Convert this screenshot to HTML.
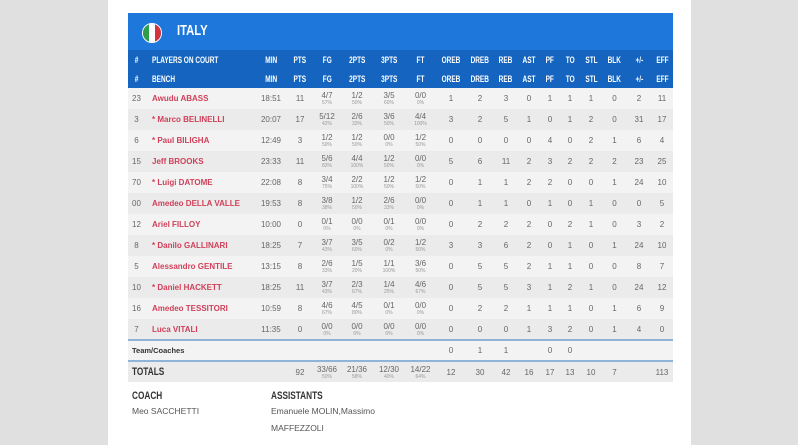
<!DOCTYPE html>
<html><head><meta charset="utf-8"><style>
*{margin:0;padding:0;box-sizing:border-box}
body{width:798px;height:445px;background:#e0e0e0;font-family:"Liberation Sans",sans-serif;overflow:hidden;position:relative}
#panel{position:absolute;left:108px;top:0;width:583px;height:445px;background:#fff}
#banner{position:absolute;left:128px;top:13px;width:545px;height:37px;background:#1e78dc}
#flag{position:absolute;left:142px;top:23px;width:20px;height:20px;border-radius:50%;overflow:hidden;display:flex;border:1px solid #fff}
#flag i{flex:1}
#italy{position:absolute;left:177px;top:22px;color:#fff;font-weight:bold;font-size:15px;transform:scaleX(.75);transform-origin:left}
table{position:absolute;left:128px;top:50px;width:545px;border-collapse:collapse;table-layout:fixed}
td,th{text-align:center;font-size:8px;color:#666;padding:0;white-space:nowrap;overflow:hidden}
th{background:#1565c0;color:#fff;height:19px;font-size:9px;font-weight:bold}
th span{display:inline-block;transform:scaleX(.72)}
th.l{text-align:left;padding-left:7px}
th.l span{transform-origin:left}
tr.d td{height:21px;line-height:9px}
tr.d:nth-child(odd) td{background:#f3f3f3}
tr.d:nth-child(even) td{background:#ebebeb}
td.n{text-align:left;padding-left:7px;color:#d0405a;font-weight:bold}
small{display:block;font-size:5px;color:#999;line-height:6px}
tr.t td{height:21px;background:#f3f3f3;border-top:2px solid #8fb4d8}
tr.tot td{height:21px;background:#ebebeb;border-top:2px solid #8fb4d8}
.cap{position:absolute;font-weight:bold;font-size:11px;color:#333;transform:scaleX(.75);transform-origin:left}
.txt{position:absolute;font-size:8.5px;color:#555}
</style></head><body>
<div id="panel"></div>
<div id="banner"></div>
<div id="flag"><i style="background:#2e9e4a"></i><i style="background:#fff"></i><i style="background:#d6323a"></i></div>
<div id="italy">ITALY</div>
<table>
<colgroup><col style="width:17px"><col style="width:110px"><col style="width:32px"><col style="width:26px"><col style="width:28px"><col style="width:32px"><col style="width:32px"><col style="width:31px"><col style="width:30px"><col style="width:28px"><col style="width:24px"><col style="width:22px"><col style="width:20px"><col style="width:20px"><col style="width:22px"><col style="width:25px"><col style="width:24px"><col style="width:22px"></colgroup>
<tr><th><span>#</span></th><th class="l"><span>PLAYERS ON COURT</span></th><th><span>MIN</span></th><th><span>PTS</span></th><th><span>FG</span></th><th><span>2PTS</span></th><th><span>3PTS</span></th><th><span>FT</span></th><th><span>OREB</span></th><th><span>DREB</span></th><th><span>REB</span></th><th><span>AST</span></th><th><span>PF</span></th><th><span>TO</span></th><th><span>STL</span></th><th><span>BLK</span></th><th><span>+/-</span></th><th><span>EFF</span></th></tr>
<tr><th><span>#</span></th><th class="l"><span>BENCH</span></th><th><span>MIN</span></th><th><span>PTS</span></th><th><span>FG</span></th><th><span>2PTS</span></th><th><span>3PTS</span></th><th><span>FT</span></th><th><span>OREB</span></th><th><span>DREB</span></th><th><span>REB</span></th><th><span>AST</span></th><th><span>PF</span></th><th><span>TO</span></th><th><span>STL</span></th><th><span>BLK</span></th><th><span>+/-</span></th><th><span>EFF</span></th></tr>
<tr class="d"><td>23</td><td class="n">Awudu ABASS</td><td>18:51</td><td>11</td><td>4/7<small>57%</small></td><td>1/2<small>50%</small></td><td>3/5<small>60%</small></td><td>0/0<small>0%</small></td><td>1</td><td>2</td><td>3</td><td>0</td><td>1</td><td>1</td><td>1</td><td>0</td><td>2</td><td>11</td></tr>
<tr class="d"><td>3</td><td class="n">* Marco BELINELLI</td><td>20:07</td><td>17</td><td>5/12<small>42%</small></td><td>2/6<small>33%</small></td><td>3/6<small>50%</small></td><td>4/4<small>100%</small></td><td>3</td><td>2</td><td>5</td><td>1</td><td>0</td><td>1</td><td>2</td><td>0</td><td>31</td><td>17</td></tr>
<tr class="d"><td>6</td><td class="n">* Paul BILIGHA</td><td>12:49</td><td>3</td><td>1/2<small>50%</small></td><td>1/2<small>50%</small></td><td>0/0<small>0%</small></td><td>1/2<small>50%</small></td><td>0</td><td>0</td><td>0</td><td>0</td><td>4</td><td>0</td><td>2</td><td>1</td><td>6</td><td>4</td></tr>
<tr class="d"><td>15</td><td class="n">Jeff BROOKS</td><td>23:33</td><td>11</td><td>5/6<small>83%</small></td><td>4/4<small>100%</small></td><td>1/2<small>50%</small></td><td>0/0<small>0%</small></td><td>5</td><td>6</td><td>11</td><td>2</td><td>3</td><td>2</td><td>2</td><td>2</td><td>23</td><td>25</td></tr>
<tr class="d"><td>70</td><td class="n">* Luigi DATOME</td><td>22:08</td><td>8</td><td>3/4<small>75%</small></td><td>2/2<small>100%</small></td><td>1/2<small>50%</small></td><td>1/2<small>50%</small></td><td>0</td><td>1</td><td>1</td><td>2</td><td>2</td><td>0</td><td>0</td><td>1</td><td>24</td><td>10</td></tr>
<tr class="d"><td>00</td><td class="n">Amedeo DELLA VALLE</td><td>19:53</td><td>8</td><td>3/8<small>38%</small></td><td>1/2<small>50%</small></td><td>2/6<small>33%</small></td><td>0/0<small>0%</small></td><td>0</td><td>1</td><td>1</td><td>0</td><td>1</td><td>0</td><td>1</td><td>0</td><td>0</td><td>5</td></tr>
<tr class="d"><td>12</td><td class="n">Ariel FILLOY</td><td>10:00</td><td>0</td><td>0/1<small>0%</small></td><td>0/0<small>0%</small></td><td>0/1<small>0%</small></td><td>0/0<small>0%</small></td><td>0</td><td>2</td><td>2</td><td>2</td><td>0</td><td>2</td><td>1</td><td>0</td><td>3</td><td>2</td></tr>
<tr class="d"><td>8</td><td class="n">* Danilo GALLINARI</td><td>18:25</td><td>7</td><td>3/7<small>43%</small></td><td>3/5<small>60%</small></td><td>0/2<small>0%</small></td><td>1/2<small>50%</small></td><td>3</td><td>3</td><td>6</td><td>2</td><td>0</td><td>1</td><td>0</td><td>1</td><td>24</td><td>10</td></tr>
<tr class="d"><td>5</td><td class="n">Alessandro GENTILE</td><td>13:15</td><td>8</td><td>2/6<small>33%</small></td><td>1/5<small>20%</small></td><td>1/1<small>100%</small></td><td>3/6<small>50%</small></td><td>0</td><td>5</td><td>5</td><td>2</td><td>1</td><td>1</td><td>0</td><td>0</td><td>8</td><td>7</td></tr>
<tr class="d"><td>10</td><td class="n">* Daniel HACKETT</td><td>18:25</td><td>11</td><td>3/7<small>43%</small></td><td>2/3<small>67%</small></td><td>1/4<small>25%</small></td><td>4/6<small>67%</small></td><td>0</td><td>5</td><td>5</td><td>3</td><td>1</td><td>2</td><td>1</td><td>0</td><td>24</td><td>12</td></tr>
<tr class="d"><td>16</td><td class="n">Amedeo TESSITORI</td><td>10:59</td><td>8</td><td>4/6<small>67%</small></td><td>4/5<small>80%</small></td><td>0/1<small>0%</small></td><td>0/0<small>0%</small></td><td>0</td><td>2</td><td>2</td><td>1</td><td>1</td><td>1</td><td>0</td><td>1</td><td>6</td><td>9</td></tr>
<tr class="d"><td>7</td><td class="n">Luca VITALI</td><td>11:35</td><td>0</td><td>0/0<small>0%</small></td><td>0/0<small>0%</small></td><td>0/0<small>0%</small></td><td>0/0<small>0%</small></td><td>0</td><td>0</td><td>0</td><td>1</td><td>3</td><td>2</td><td>0</td><td>1</td><td>4</td><td>0</td></tr>
<tr class="t"><td colspan="3" style="text-align:left;padding-left:4px;font-weight:bold;color:#333;font-size:7.5px">Team/Coaches</td><td></td><td></td><td></td><td></td><td></td><td>0</td><td>1</td><td>1</td><td></td><td>0</td><td>0</td><td></td><td></td><td></td><td></td></tr>
<tr class="tot"><td colspan="3" style="text-align:left;padding-left:4px;font-weight:bold;color:#333;font-size:11px"><span style="display:inline-block;transform:scaleX(.75);transform-origin:left">TOTALS</span></td><td>92</td><td>33/66<small>50%</small></td><td>21/36<small>58%</small></td><td>12/30<small>40%</small></td><td>14/22<small>64%</small></td><td>12</td><td>30</td><td>42</td><td>16</td><td>17</td><td>13</td><td>10</td><td>7</td><td></td><td>113</td></tr>
</table>
<div class="cap" style="left:132px;top:390px">COACH</div>
<div class="txt" style="left:132px;top:406px">Meo SACCHETTI</div>
<div class="cap" style="left:271px;top:390px">ASSISTANTS</div>
<div class="txt" style="left:271px;top:406px">Emanuele MOLIN,Massimo</div>
<div class="txt" style="left:271px;top:423px">MAFFEZZOLI</div>
</body></html>
